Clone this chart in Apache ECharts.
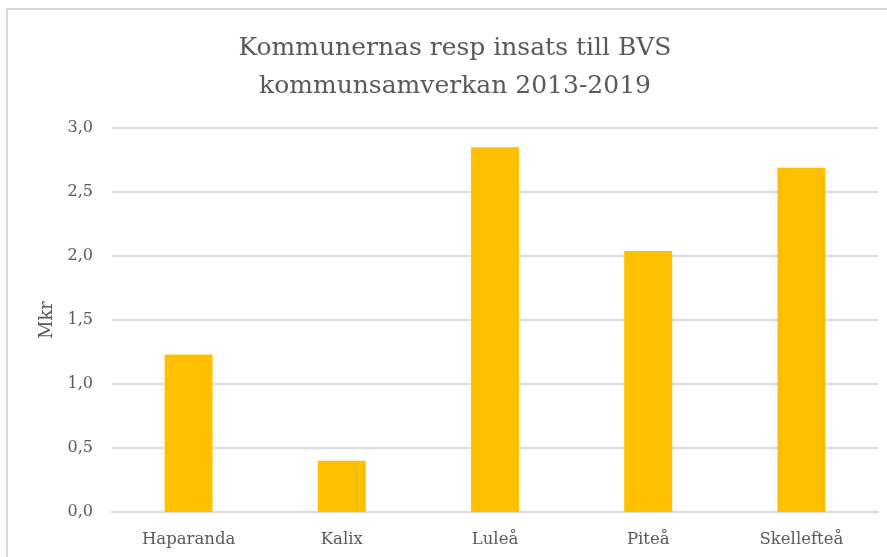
<!DOCTYPE html>
<html>
<head>
<meta charset="utf-8">
<script src="https://cdn.jsdelivr.net/npm/echarts@6/dist/echarts.min.js"></script>
<style>
  html, body { margin: 0; padding: 0; background: #fff; }
  #chart { width: 887px; height: 557px; }
</style>
</head>
<body>
<div id="chart"></div>
<script>
// Municipal contributions to BVS cooperation, 2013-2019 (million SEK)
const categories = ['Haparanda', 'Kalix', 'Luleå', 'Piteå', 'Skellefteå'];
const values = [1.23, 0.40, 2.85, 2.04, 2.69];
const yTicks = [0, 0.5, 1, 1.5, 2, 2.5, 3];
const titleLines = ['Kommunernas resp insats till BVS', 'kommunsamverkan 2013-2019'];

const FONT = '"DejaVu Serif", "Liberation Serif", serif';
const TEXT = '#595959';
const GRID = '#d9d9d9';

const chart = echarts.init(document.getElementById('chart'), null, { renderer: 'canvas' });

// Title is centred on the full chart frame, which runs past the right edge.
const titleGraphics = titleLines.map((line, i) => ({
  type: 'text',
  x: 455,
  y: 48 + i * 38,
  silent: true,
  style: {
    text: line,
    fill: TEXT,
    font: '25px ' + FONT,
    textAlign: 'center',
    textVerticalAlign: 'middle'
  }
}));

chart.setOption({
  backgroundColor: '#ffffff',
  animation: false,
  graphic: [{
    type: 'rect',
    shape: { x: 7, y: 9, width: 900, height: 600 },
    style: { fill: 'none', stroke: GRID, lineWidth: 2 },
    silent: true
  }].concat(titleGraphics),
  grid: { left: 112, right: 9, top: 128, bottom: 45, containLabel: false },
  xAxis: {
    type: 'category',
    data: categories,
    axisTick: { show: false },
    axisLine: { show: true, lineStyle: { color: GRID, width: 2 } },
    axisLabel: { color: TEXT, fontFamily: FONT, fontSize: 16.5, margin: 19 }
  },
  yAxis: {
    type: 'value',
    min: yTicks[0],
    max: yTicks[yTicks.length - 1],
    interval: 0.5,
    name: 'Mkr',
    nameLocation: 'middle',
    nameGap: 56,
    nameRotate: 90,
    nameTextStyle: { color: TEXT, fontFamily: FONT, fontSize: 18 },
    axisLine: { show: false },
    axisTick: { show: false },
    splitLine: { lineStyle: { color: GRID, width: 2 } },
    axisLabel: {
      color: TEXT,
      fontFamily: FONT,
      fontSize: 16,
      margin: 19,
      formatter: v => v.toFixed(1).replace('.', ',')
    }
  },
  series: [{
    type: 'bar',
    data: values,
    barWidth: 48,
    itemStyle: { color: '#FFC000' }
  }]
});
</script>
</body>
</html>
